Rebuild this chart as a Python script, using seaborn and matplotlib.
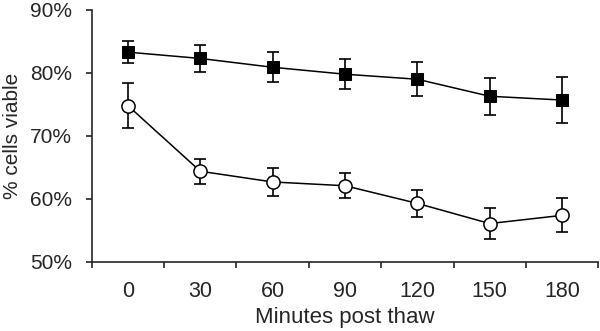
import numpy as np
import pandas as pd
import seaborn as sns
import matplotlib.pyplot as plt
from matplotlib.ticker import FixedLocator, PercentFormatter

minutes = ["0", "30", "60", "90", "120", "150", "180"]
filled_mean = [83.3, 82.3, 80.9, 79.8, 79.0, 76.3, 75.7]
filled_err = [1.8, 2.1, 2.4, 2.4, 2.7, 2.9, 3.7]
open_mean = [74.8, 64.4, 62.7, 62.1, 59.3, 56.1, 57.4]
open_err = [3.6, 2.0, 2.2, 2.0, 2.1, 2.4, 2.7]

sns.set_style("ticks")
plt.rcParams['font.family'] = ['Liberation Sans', 'DejaVu Sans']

pos = np.arange(len(minutes))
df = pd.DataFrame({
    "pos": np.concatenate([pos, pos]),
    "viable": filled_mean + open_mean,
    "group": ["filled"] * len(pos) + ["open"] * len(pos),
})

fig = plt.figure(figsize=(6, 3.31), dpi=100)
ax = fig.add_axes([0.153, 0.2085, 0.844, 0.7615])

for m, e in [(filled_mean, filled_err), (open_mean, open_err)]:
    ax.errorbar(pos, m, yerr=e, fmt='none', ecolor='black', elinewidth=1.2,
                capsize=4, capthick=1.2, zorder=2)

sns.lineplot(data=df[df.group == "filled"], x="pos", y="viable", ax=ax,
             color="black", linewidth=1.1, marker="s", markersize=9,
             markerfacecolor="black", markeredgecolor="black", zorder=3)
sns.lineplot(data=df[df.group == "open"], x="pos", y="viable", ax=ax,
             color="black", linewidth=1.1, marker="o", markersize=9.5,
             markerfacecolor="white", markeredgecolor="black",
             markeredgewidth=1.1, zorder=3)

ax.set_xlim(-0.5, len(minutes) - 0.5)
ax.set_ylim(50, 90)
ax.set_xticks(pos)
ax.set_xticklabels(minutes)
ax.xaxis.set_minor_locator(FixedLocator(np.arange(-0.5, len(minutes), 1.0)))
ax.tick_params(axis='x', which='major', length=0, pad=13.5, labelsize=15.5)
ax.tick_params(axis='x', which='minor', length=4.3, width=1.2, direction='out')
ax.set_yticks([50, 60, 70, 80, 90])
ax.yaxis.set_major_formatter(PercentFormatter(decimals=0))
ax.tick_params(axis='y', length=4.3, width=1.2, labelsize=15, pad=10)

sns.despine(ax=ax)
for s in ["left", "bottom"]:
    ax.spines[s].set_linewidth(1.2)

ax.set_xlabel("Minutes post thaw", fontsize=16, labelpad=3.5)
ax.set_ylabel("% cells viable", fontsize=15, labelpad=5.5)

fig.savefig("out.png", dpi=100)
